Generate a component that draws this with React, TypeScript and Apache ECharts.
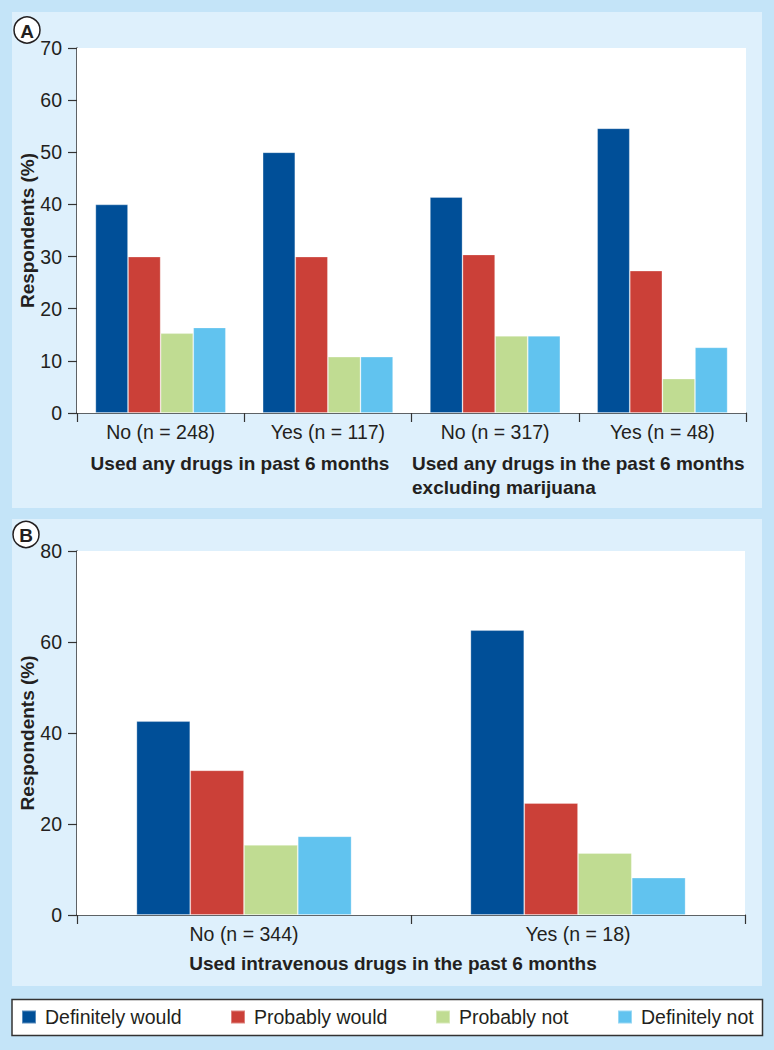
import React, { useEffect, useRef } from "react";
import * as echarts from "echarts";

const seriesNames = ["Definitely would", "Probably would", "Probably not", "Definitely not"];
const colors = ["#004f98", "#cb4038", "#c0dc92", "#61c3ef"];

const categoriesA = ["No (n = 248)", "Yes (n = 117)", "No (n = 317)", "Yes (n = 48)"];
const definitelyWouldA = [40, 50, 41.4, 54.6];
const probablyWouldA = [30, 30, 30.4, 27.3];
const probablyNotA = [15.3, 10.8, 14.8, 6.6];
const definitelyNotA = [16.4, 10.8, 14.8, 12.6];

const categoriesB = ["No (n = 344)", "Yes (n = 18)"];
const definitelyWouldB = [42.6, 62.6];
const probablyWouldB = [31.8, 24.6];
const probablyNotB = [15.4, 13.6];
const definitelyNotB = [17.3, 8.2];

const FONT = "Liberation Sans, Arial, Helvetica, sans-serif";
const TXT = "#231f20";
const FS = 19.5;

export default function App() {
  const ref = useRef<HTMLDivElement>(null);
  useEffect(() => {
    document.body.style.margin = "0";
    if (!ref.current) return;
    const chart = echarts.init(ref.current, undefined, { renderer: "svg" });
    const dataA = [definitelyWouldA, probablyWouldA, probablyNotA, definitelyNotA];
    const dataB = [definitelyWouldB, probablyWouldB, probablyNotB, definitelyNotB];

    const xAxisCommon = {
      type: "category" as const,
      axisLine: { show: true, lineStyle: { color: "#333", width: 1.5 } },
      axisTick: { show: true, length: 9, lineStyle: { color: "#333", width: 1.2 } },
      axisLabel: { fontSize: FS, color: TXT, fontFamily: FONT, margin: 9 },
      splitLine: { show: false },
    };
    const yAxisCommon = {
      type: "value" as const,
      min: 0,
      axisLine: { show: true, lineStyle: { color: "#333", width: 1.5 } },
      axisTick: { show: true, length: 9, lineStyle: { color: "#333", width: 1.2 } },
      axisLabel: { fontSize: FS, color: TXT, fontFamily: FONT, margin: 15 },
      splitLine: { show: false },
    };

    const series: any[] = [];
    seriesNames.forEach((n, i) => {
      series.push({
        type: "bar",
        name: n,
        xAxisIndex: 0,
        yAxisIndex: 0,
        data: dataA[i],
        barGap: "0%",
        barCategoryGap: "22%",
        itemStyle: { color: colors[i], borderColor: "rgba(255,255,255,0.35)", borderWidth: 0.8 },
      });
    });
    seriesNames.forEach((n, i) => {
      series.push({
        type: "bar",
        name: n,
        xAxisIndex: 1,
        yAxisIndex: 1,
        data: dataB[i],
        barGap: "0%",
        barCategoryGap: "35.6%",
        itemStyle: { color: colors[i], borderColor: "rgba(255,255,255,0.35)", borderWidth: 0.8 },
      });
    });

    const legendLefts = [21, 230, 435, 617];
    const legends = seriesNames.map((n, i) => ({
      data: [n],
      left: legendLefts[i],
      top: 1007,
      icon: "rect",
      itemWidth: 14,
      itemHeight: 13,
      itemGap: 0,
      padding: 0,
      textStyle: { fontSize: FS, color: TXT, fontFamily: FONT, padding: [0, 0, 0, 4] },
      selectedMode: false,
    }));

    const bold = { fontSize: 19, fontWeight: "bold", fill: TXT, fontFamily: FONT };

    chart.setOption({
      animation: false,
      backgroundColor: "#c4e4f8",
      grid: [
        { left: 77, top: 48, width: 669, height: 365, show: true, backgroundColor: "#ffffff", borderWidth: 0, z: 1 },
        { left: 77, top: 551, width: 668, height: 364, show: true, backgroundColor: "#ffffff", borderWidth: 0, z: 1 },
      ],
      xAxis: [
        { ...xAxisCommon, gridIndex: 0, data: categoriesA },
        { ...xAxisCommon, gridIndex: 1, data: categoriesB },
      ],
      yAxis: [
        { ...yAxisCommon, gridIndex: 0, max: 70, interval: 10 },
        { ...yAxisCommon, gridIndex: 1, max: 80, interval: 20 },
      ],
      legend: legends,
      series,
      graphic: [
        { type: "rect", z: -10, silent: true, shape: { x: 12, y: 12, width: 750, height: 496 }, style: { fill: "#def0fc" } },
        { type: "rect", z: -10, silent: true, shape: { x: 12, y: 519, width: 750, height: 467 }, style: { fill: "#def0fc" } },
        { type: "rect", z: -10, silent: true, shape: { x: 12, y: 999.5, width: 750.5, height: 36 }, style: { fill: "#ffffff", stroke: "#333", lineWidth: 1.5 } },
        { type: "circle", z: 5, shape: { cx: 27, cy: 30, r: 13 }, style: { fill: "#ffffff", stroke: "#231f20", lineWidth: 1.5 } },
        { type: "text", z: 6, x: 27, y: 31, style: { text: "A", align: "center", verticalAlign: "middle", fontSize: 19, fontWeight: "bold", fill: TXT, fontFamily: FONT } },
        { type: "circle", z: 5, shape: { cx: 26, cy: 534.5, r: 13 }, style: { fill: "#ffffff", stroke: "#231f20", lineWidth: 1.5 } },
        { type: "text", z: 6, x: 26, y: 535.5, style: { text: "B", align: "center", verticalAlign: "middle", fontSize: 19, fontWeight: "bold", fill: TXT, fontFamily: FONT } },
        { type: "text", z: 6, x: 27, y: 230.5, rotation: Math.PI / 2, style: { text: "Respondents (%)", align: "center", verticalAlign: "middle", ...bold } },
        { type: "text", z: 6, x: 27, y: 733, rotation: Math.PI / 2, style: { text: "Respondents (%)", align: "center", verticalAlign: "middle", ...bold } },
        { type: "text", z: 6, x: 240, y: 463, style: { text: "Used any drugs in past 6 months", align: "center", verticalAlign: "middle", ...bold } },
        { type: "text", z: 6, x: 412, y: 463, style: { text: "Used any drugs in the past 6 months", align: "left", verticalAlign: "middle", ...bold } },
        { type: "text", z: 6, x: 412, y: 487, style: { text: "excluding marijuana", align: "left", verticalAlign: "middle", ...bold } },
        { type: "text", z: 6, x: 393, y: 963, style: { text: "Used intravenous drugs in the past 6 months", align: "center", verticalAlign: "middle", ...bold } },
      ],
    });
    return () => chart.dispose();
  }, []);
  return <div ref={ref} style={{ width: 774, height: 1050 }} />;
}
